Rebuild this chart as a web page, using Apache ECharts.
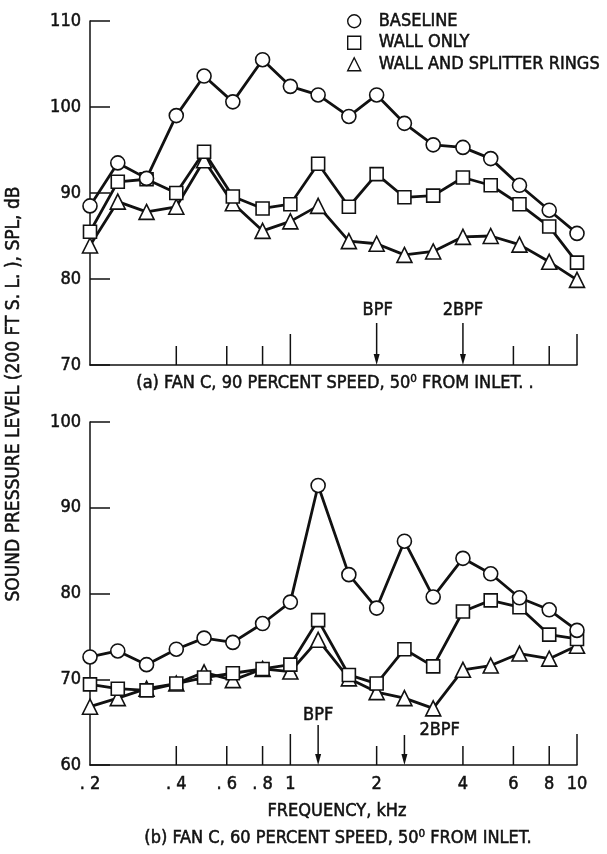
<!DOCTYPE html>
<html>
<head>
<meta charset="utf-8">
<script src="https://cdn.jsdelivr.net/npm/echarts@6/dist/echarts.min.js"></script>
<style>
  html, body { margin: 0; padding: 0; background: #fff; }
  #chart { width: 607px; height: 854px; }
</style>
</head>
<body>
<div id="chart"></div>
<script>
// One-third-octave band centre frequencies, kHz
const freqKHz = [0.2, 0.25, 0.315, 0.4, 0.5, 0.63, 0.8, 1, 1.25, 1.6, 2, 2.5, 3.15, 4, 5, 6.3, 8, 10];

// (a) 90 percent speed, SPL in dB
const baselineA     = [88.5, 93.5, 91.7, 99.0, 103.6, 100.6, 105.5, 102.4, 101.4, 98.9, 101.4, 98.1, 95.6, 95.3, 94.0, 90.9, 88.0, 85.3];
const wallOnlyA     = [85.5, 91.3, 91.6, 90.0, 94.8, 89.6, 88.2, 88.7, 93.4, 88.4, 92.2, 89.5, 89.7, 91.8, 90.9, 88.7, 86.1, 81.9];
const wallSplitterA = [83.9, 89.0, 87.8, 88.4, 93.8, 88.8, 85.6, 86.7, 88.5, 84.4, 84.1, 82.8, 83.2, 84.9, 85.0, 84.0, 82.0, 79.9];

// (b) 60 percent speed, SPL in dB
const baselineB     = [72.6, 73.3, 71.7, 73.5, 74.8, 74.3, 76.5, 79.0, 92.6, 82.2, 78.3, 86.1, 79.6, 84.1, 82.3, 79.5, 78.1, 75.7];
const wallOnlyB     = [69.4, 68.9, 68.7, 69.5, 70.2, 70.7, 71.2, 71.7, 76.9, 70.5, 69.5, 73.5, 71.5, 77.9, 79.2, 78.4, 75.2, 74.7];
const wallSplitterB = [66.8, 67.8, 68.9, 69.5, 70.8, 69.9, 71.2, 70.9, 74.6, 70.1, 68.5, 67.8, 66.6, 71.1, 71.6, 73.0, 72.4, 73.9];

const seriesNames = ['BASELINE', 'WALL ONLY', 'WALL AND SPLITTER RINGS'];

// Axis ranges and ticks
const yRangeA = [70, 110];
const yRangeB = [60, 100];
const yStep = 10;
const xRange = [0.2, 10];
const xLabelValues = [0.2, 0.4, 0.6, 0.8, 1, 2, 4, 6, 8, 10];
const xTickMarksA = [0.4, 0.6, 0.8, 1, 6, 8, 10];
const xTickMarksB = [0.4, 0.6, 0.8, 1, 2, 4, 6, 8, 10];

// Blade passing frequency markers, kHz
const bpfMarksA = [{ f: 2, text: 'BPF' }, { f: 4, text: '2BPF' }];
const bpfMarksB = [{ f: 1.25, text: 'BPF' }, { f: 2.5, text: '2BPF' }];

const FONT = '"Liberation Sans Narrow", "DejaVu Sans Condensed", "Arial Narrow", sans-serif';
const INK = '#111';
const HEAVY = 0.5;   // thin outline that gives the lettering a little more weight

const chart = echarts.init(document.getElementById('chart'), null, { renderer: 'canvas' });

const pairs = vals => freqKHz.map((f, i) => [f, vals[i]]);
const isDecade = v => Math.abs(Math.log10(v) - Math.round(Math.log10(v))) < 1e-9;

const labelText = size => ({ color: INK, fontFamily: FONT, fontSize: size, textBorderColor: INK, textBorderWidth: HEAVY });

function xAxisFor(gridIndex, showLabels) {
  return {
    type: 'log', logBase: 10, gridIndex, min: xRange[0], max: xRange[1],
    axisLine: { show: true, lineStyle: { color: INK, width: 1.5 } },
    axisTick: { show: false },
    splitLine: { show: false },
    axisLabel: Object.assign({
      show: showLabels,
      customValues: xLabelValues,
      formatter: v => (v < 1 ? '. ' + String(+v.toFixed(1)).slice(2) : String(Math.round(v))),
      margin: 10
    }, labelText(18))
  };
}

function yAxisFor(gridIndex, range) {
  return {
    type: 'value', gridIndex, min: range[0], max: range[1], interval: yStep,
    axisLine: { show: true, lineStyle: { color: INK, width: 1.5 } },
    axisTick: { show: true, inside: true, length: 20, lineStyle: { color: INK, width: 1.5 } },
    splitLine: { show: false },
    axisLabel: Object.assign({ margin: 9 }, labelText(18))
  };
}

const symbols = ['circle', 'rect', 'triangle'];
const symbolSizes = [14, 13, 15];

function lineSeries(name, idx, vals, axisIndex) {
  return {
    type: 'line', name, xAxisIndex: axisIndex, yAxisIndex: axisIndex,
    data: pairs(vals),
    symbol: symbols[idx], symbolSize: symbolSizes[idx], showAllSymbol: true,
    z: 10 - idx,
    lineStyle: { color: INK, width: 2.8 },
    itemStyle: { color: '#fff', borderColor: INK, borderWidth: 1.6 },
    emphasis: { disabled: true },
    animation: false
  };
}

function tickSeries(ticks, yMin, axisIndex) {
  return {
    type: 'custom', xAxisIndex: axisIndex, yAxisIndex: axisIndex, silent: true, animation: false, z: 5,
    data: ticks.map(v => [v, yMin]),
    renderItem(params, api) {
      const p = api.coord([api.value(0), api.value(1)]);
      const len = isDecade(api.value(0)) ? 31 : 19;
      return { type: 'line', shape: { x1: p[0], y1: p[1], x2: p[0], y2: p[1] - len },
               style: { stroke: INK, lineWidth: 1.5 } };
    }
  };
}

const textStyle = (size, extra) => Object.assign({
  font: size + 'px ' + FONT, fill: INK, stroke: INK, lineWidth: HEAVY
}, extra);

// Arrow pointing down onto the frequency axis, with its label
function arrowSeries(marks, yMin, axisIndex, layouts) {
  return {
    type: 'custom', xAxisIndex: axisIndex, yAxisIndex: axisIndex, silent: true, animation: false, z: 6,
    data: marks.map(m => [m.f, yMin]),
    renderItem(params, api) {
      const m = marks[params.dataIndex];
      const lay = layouts[params.dataIndex];
      const p = api.coord([api.value(0), api.value(1)]);
      const x = p[0], y = p[1];
      return {
        type: 'group',
        children: [
          { type: 'line', shape: { x1: x, y1: y - lay.len, x2: x, y2: y - 6 }, style: { stroke: INK, lineWidth: 1.5 } },
          { type: 'polygon', shape: { points: [[x - 3, y - 11], [x + 3, y - 11], [x, y]] }, style: { fill: INK } },
          { type: 'text', x: x + lay.dx, y: y - lay.len - lay.dy,
            style: textStyle(18, { text: m.text, align: lay.align, verticalAlign: 'middle' }) }
        ]
      };
    }
  };
}

const option = {
  backgroundColor: '#fff',
  animation: false,
  textStyle: { fontFamily: FONT },
  grid: [
    { left: 90, top: 21, width: 487, height: 344 },
    { left: 90, top: 422, width: 487, height: 343 }
  ],
  xAxis: [xAxisFor(0, false), xAxisFor(1, true)],
  yAxis: [yAxisFor(0, yRangeA), yAxisFor(1, yRangeB)],
  legend: {
    orient: 'vertical', left: 342, top: 7, itemGap: 3,
    itemWidth: 13, itemHeight: 13, selectedMode: false,
    data: seriesNames.map((n, i) => ({ name: n, icon: symbols[i] })),
    itemStyle: { color: '#fff', borderColor: INK, borderWidth: 1.4 },
    textStyle: Object.assign({ lineHeight: 18, padding: [0, 0, 0, 13] }, labelText(18))
  },
  series: [
    lineSeries(seriesNames[0], 0, baselineA, 0),
    lineSeries(seriesNames[1], 1, wallOnlyA, 0),
    lineSeries(seriesNames[2], 2, wallSplitterA, 0),
    lineSeries(seriesNames[0], 0, baselineB, 1),
    lineSeries(seriesNames[1], 1, wallOnlyB, 1),
    lineSeries(seriesNames[2], 2, wallSplitterB, 1),
    tickSeries(xTickMarksA, yRangeA[0], 0),
    tickSeries(xTickMarksB, yRangeB[0], 1),
    arrowSeries(bpfMarksA, yRangeA[0], 0, [
      { len: 42, dx: 1, dy: 13, align: 'center' },
      { len: 42, dx: 0, dy: 13, align: 'center' }
    ]),
    arrowSeries(bpfMarksB, yRangeB[0], 1, [
      { len: 40, dx: 0, dy: 10, align: 'center' },
      { len: 30, dx: 15, dy: 5, align: 'left' }
    ])
  ],
  graphic: [
    { type: 'text', x: 14, y: 394, rotation: Math.PI / 2, silent: true,
      style: textStyle(19, { text: 'SOUND PRESSURE LEVEL (200 FT S. L. ), SPL, dB', align: 'center', verticalAlign: 'middle' }) },
    { type: 'text', x: 335, y: 383, silent: true,
      style: textStyle(18, { text: '(a) FAN C, 90 PERCENT SPEED, 50\u2070 FROM INLET. .', align: 'center', verticalAlign: 'middle' }) },
    { type: 'text', x: 337, y: 811, silent: true,
      style: textStyle(18, { text: 'FREQUENCY, kHz', align: 'center', verticalAlign: 'middle' }) },
    { type: 'text', x: 338, y: 838, silent: true,
      style: textStyle(18, { text: '(b) FAN C, 60 PERCENT SPEED, 50\u2070 FROM INLET.', align: 'center', verticalAlign: 'middle' }) }
  ]
};

chart.setOption(option);
</script>
</body>
</html>
